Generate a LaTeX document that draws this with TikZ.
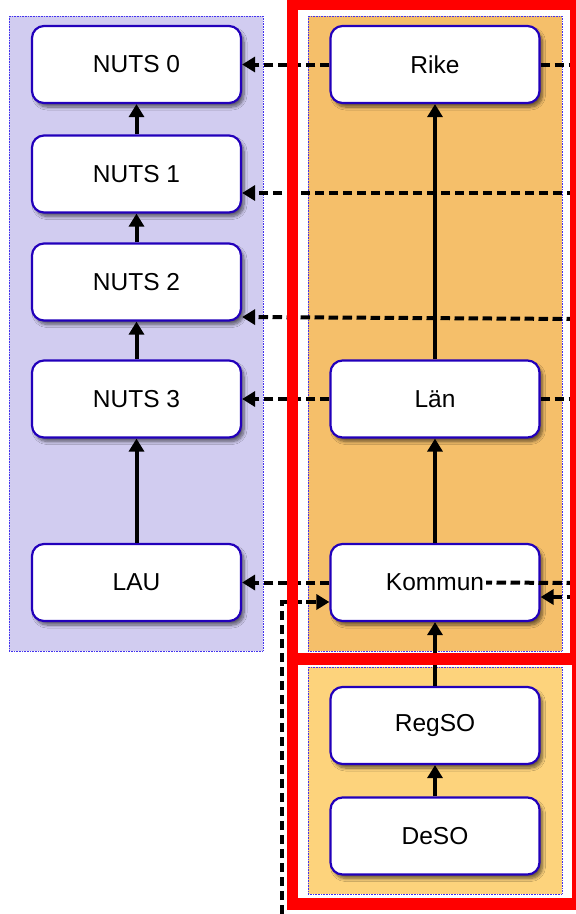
\documentclass[tikz,border=0pt]{standalone}
\usepackage{fontspec}
\setmainfont{Liberation Sans}
\usetikzlibrary{arrows.meta,shadows,shadows.blur}
\definecolor{lav}{HTML}{D1CCF0}
\definecolor{org}{HTML}{F5BF6A}
\definecolor{yel}{HTML}{FDD37C}
\definecolor{nblue}{HTML}{2200BB}
\definecolor{dotblue}{HTML}{4433EE}
\begin{document}
\begin{tikzpicture}[x=1pt,y=-1pt,
 box/.style={draw=nblue, line width=2.2pt, fill=white, rounded corners=12pt,
   minimum width=209pt, minimum height=77pt, inner sep=0pt,
   font=\fontsize{24.5}{29}\selectfont,
   blur shadow={shadow xshift=3pt, shadow yshift=-4pt, shadow blur steps=8, shadow blur radius=3pt, shadow opacity=55}},
 boxtext/.style={inner sep=2pt, font=\fontsize{24.5}{29}\selectfont},
 panel/.style={draw=dotblue, densely dotted, line width=0.6pt},
 solidarr/.style={line width=4pt, -{Triangle[length=13pt,width=15pt]}},
 dasharr/.style={line width=4pt, dash pattern=on 9.5pt off 4.5pt, -{Triangle[length=13pt,width=15pt]}},
 dashline/.style={line width=4pt, dash pattern=on 9.5pt off 4.5pt},
 redframe/.style={draw=red, line width=11.5pt}]
\useasboundingbox (0,0) rectangle (576,914);
\fill[white] (0,0) rectangle (576,914);

% panels
\draw[panel, fill=lav] (9,16) rectangle (263,651);
\draw[panel, fill=org] (308,16) rectangle (562,651);
\draw[panel, fill=yel] (308,667) rectangle (562,894);

% left column
\node[box] (n0) at (136.5,64.5) {NUTS 0};
\node[box] (n1) at (136.5,174) {NUTS 1};
\node[box] (n2) at (136.5,282) {NUTS 2};
\node[box] (n3) at (136.5,399) {NUTS 3};
\node[box] (lau) at (136.5,582.5) {LAU};

% right column
\node[box] (rike) at (435,64.5) {Rike};
\node[box] (lan) at (435,399) {Län};
\node[box] (kom) at (435,582.5) {};
\node[boxtext] (komtext) at (kom) {Kommun};
\node[box] (reg) at (435,725.5) {RegSO};
\node[box] (deso) at (435,836) {DeSO};

% free ends
\coordinate (rikeR) at (576,64.5);
\coordinate (e1) at (576,193);
\coordinate (e2) at (576,319);
\coordinate (lanR) at (576,399);
\coordinate (komR) at (576,583);
\coordinate (komIn) at (576,597);
\coordinate (bot) at (282,914);

% solid arrows
\draw[solidarr] (n1) -- (n0);
\draw[solidarr] (n2) -- (n1);
\draw[solidarr] (n3) -- (n2);
\draw[solidarr] (lau) -- (n3);
\draw[solidarr] (lan) -- (rike);
\draw[solidarr] (kom) -- (lan);
\draw[solidarr] (reg) -- (kom);
\draw[solidarr] (deso) -- (reg);

% dashed connectors
\draw[dasharr] (rike) -- (n0);
\draw[dashline] (rike.east) -- (rikeR);
\draw[dasharr] (e1) -- (n1.east |- e1);
\draw[dasharr] (e2) -- ([yshift=-35pt]n2.east);
\draw[dasharr] (lan) -- (n3);
\draw[dashline] (lan.east) -- (lanR);
\draw[dasharr] (kom) -- (lau);
\draw[dashline] (komR) -- (komtext.east);
\draw[dasharr] (komIn) -- (kom.east |- komIn);
\draw[dasharr] (bot) |- ([yshift=-19.5pt]kom.west);

% red frames
\draw[redframe] (292.5,4.5) rectangle (575.75,658.5);
\draw[redframe] (292.5,659) rectangle (577.75,904);
\end{tikzpicture}
\end{document}
